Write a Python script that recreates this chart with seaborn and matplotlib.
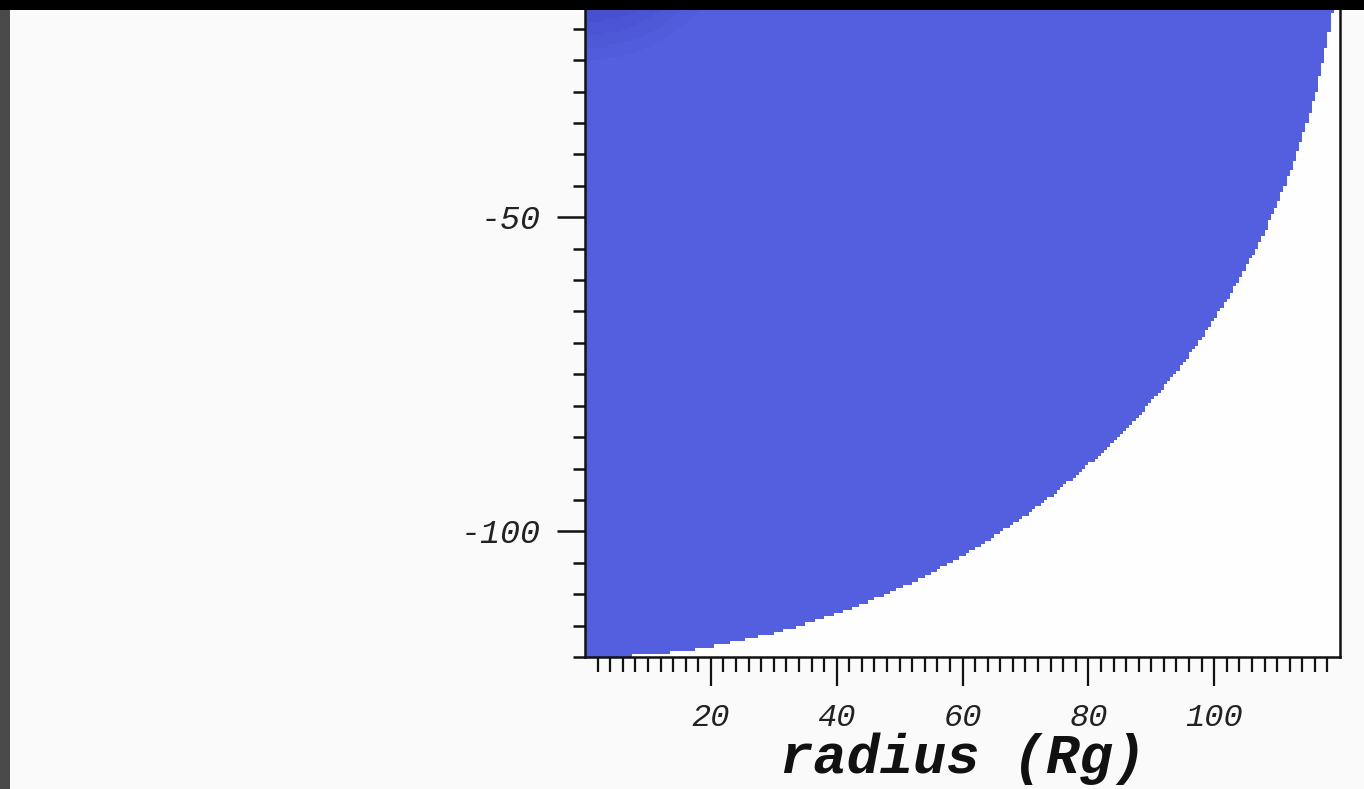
import numpy as np
import pandas as pd
import matplotlib
matplotlib.use("Agg")
import matplotlib.pyplot as plt
import seaborn as sns
from matplotlib.colors import LinearSegmentedColormap
from matplotlib.patches import Rectangle
from matplotlib.ticker import FixedLocator

# Disk geometry and emission levels (radius in gravitational radii)
disk_radius = 120.0
cell_size = 0.5
band_edges = [0.0, 17.0, 19.0, 21.0, 23.0, 25.0, disk_radius]
band_levels = [0.55, 0.65, 0.75, 0.85, 0.93, 1.0]

x_limits = (0, 120)
y_limits = (-120, 0)
x_major = [20, 40, 60, 80, 100]
y_major = [-50, -100]
x_label = "radius (Rg)"

sns.set_theme(style="ticks")
plt.rcParams["axes.unicode_minus"] = False
plt.rcParams["font.family"] = ["Liberation Mono", "DejaVu Sans"]

# Cell centres of the quarter disk
cx = np.arange(x_limits[0] + cell_size / 2, x_limits[1], cell_size)
cy = np.arange(y_limits[0] + cell_size / 2, y_limits[1], cell_size)
gx, gy = np.meshgrid(cx, cy)
rr = np.hypot(gx, gy)
inside = rr <= disk_radius
idx = np.clip(np.digitize(rr, band_edges) - 1, 0, len(band_levels) - 1)
lvl = np.array(band_levels)[idx]
disk = pd.DataFrame({"x": gx[inside], "y": gy[inside], "level": lvl[inside]})

x_edges = np.arange(x_limits[0], x_limits[1] + cell_size / 2, cell_size)
y_edges = np.arange(y_limits[0], y_limits[1] + cell_size / 2, cell_size)

cmap = LinearSegmentedColormap.from_list("disk", ["#454ccb", "#535fdf"])

W, H, DPI = 1364, 789, 100
fig = plt.figure(figsize=(W / DPI, H / DPI), dpi=DPI, facecolor="#fafafa")
# Axes extends above the figure top; 0 maps ~97 px above the top edge
left_px, right_px, bottom_px, zero_px = 585, 1340, 657, -97
ax = fig.add_axes([left_px / W, (H - bottom_px) / H,
                   (right_px - left_px) / W, (bottom_px - zero_px) / H])
ax.set_facecolor("#fefefe")

sns.histplot(data=disk, x="x", y="y", weights="level", bins=[x_edges, y_edges],
             cmap=cmap, vmin=min(band_levels), vmax=max(band_levels),
             cbar=False, ax=ax)

ax.set_xlim(*x_limits)
ax.set_ylim(*y_limits)

ax.xaxis.set_major_locator(FixedLocator(x_major))
ax.xaxis.set_minor_locator(FixedLocator([v for v in range(2, 120, 2) if v not in x_major]))
ax.yaxis.set_major_locator(FixedLocator(y_major))
ax.yaxis.set_minor_locator(FixedLocator([v for v in range(-120, 1, 5) if v not in y_major]))

ax.tick_params(axis="x", which="major", direction="out", length=21, width=1.6,
               pad=12, labelsize=23, color="#111111", labelcolor="#222222")
ax.tick_params(axis="x", which="minor", direction="out", length=11, width=1.6, color="#111111")
ax.tick_params(axis="y", which="major", direction="out", length=20, width=1.8,
               pad=12, labelsize=24, color="#111111", labelcolor="#222222")
ax.tick_params(axis="y", which="minor", direction="out", length=9, width=1.8, color="#111111")
for lab in ax.get_xticklabels() + ax.get_yticklabels():
    lab.set_fontstyle("italic")

for sp in ax.spines.values():
    sp.set_color("#111111")
    sp.set_linewidth(1.8)

ax.set_ylabel("")
ax.set_xlabel(x_label, fontsize=40, fontweight="bold", fontstyle="italic",
              color="#111111", labelpad=0)

# Frame edges: dark strip on the left and black band on top
fig.add_artist(Rectangle((0, 0), 10 / W, 1, transform=fig.transFigure,
                         facecolor="#4a4a4a", edgecolor="none", zorder=20))
fig.add_artist(Rectangle((0, 1 - 10 / H), 1, 10 / H, transform=fig.transFigure,
                         facecolor="#000000", edgecolor="none", zorder=21))

fig.savefig("out.png", dpi=DPI, facecolor=fig.get_facecolor())
